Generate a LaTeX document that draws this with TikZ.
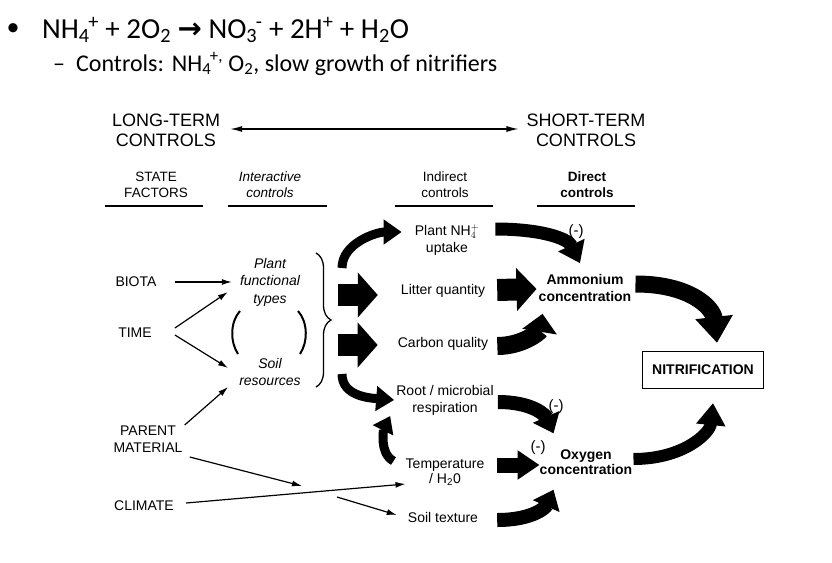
\documentclass[tikz,border=0pt]{standalone}
\usepackage{fontspec}
\setmainfont{Liberation Sans}
\newfontfamily\slidefont{Carlito}
\newfontfamily\arrowfont{DejaVu Sans}
\usetikzlibrary{arrows.meta,positioning,calc,decorations.pathreplacing}
\newcommand{\ionsub}[2]{\textsubscript{#1}\kern-1.5pt\textsuperscript{#2}}

\begin{document}
\begin{tikzpicture}[x=1pt,y=-1pt,inner sep=0pt]
       \tikzstyle{every node}=[align=center,font=\fontsize{14}{17}\selectfont]
       \tikzstyle{big}=[font=\fontsize{18}{20}\selectfont]
       \tikzstyle{hdr}=[font=\fontsize{13.5}{16}\selectfont]
       \tikzstyle{rule}=[line width=1.5pt]
       \tikzstyle{link}=[line width=1.2pt,-{Latex[length=10pt,width=6pt]}]
       \tikzstyle{minus}=[font=\fontsize{15}{17}\selectfont]
       \tikzset{fat/.style n args={3}{line width=#1,-{Triangle[length=#3,width=#2]}}}

       \fill[white] (0,0) rectangle (832,562);
       \useasboundingbox (0,0) rectangle (832,562);

       % slide text
       \node (bullet) at (13,30) {\slidefont\fontsize{26}{28}\selectfont •};
       \node[anchor=base west] (react) at (42,38) {\slidefont\fontsize{29}{32}\selectfont
             NH\ionsub{4}{+} + 2O\textsubscript{2} {\arrowfont\bfseries →} NO\ionsub{3}{-} + 2H\textsuperscript{+} + H\textsubscript{2}O};
       \node[anchor=base west] (ctrl) at (53,71) {\slidefont\fontsize{24}{27}\selectfont
             –\hspace{11pt}Controls:\hspace{8pt}NH\ionsub{4}{+,} O\textsubscript{2}, slow growth of nitrifiers};

       % headers
       \node[big] (longterm)  at (166,130) {LONG-TERM\\CONTROLS};
       \node[big] (shortterm) at (586,130) {SHORT-TERM\\CONTROLS};
       \draw[line width=1.2pt,{Latex[length=12pt,width=6pt]}-{Latex[length=12pt,width=6pt]}]
             ($(longterm.east)+(10,-1)$) -- ($(shortterm.west)+(-8,-1)$);

       \node[hdr] (state)    at (156,185) {STATE\\FACTORS};
       \node[hdr,font=\fontsize{13.5}{16}\selectfont\itshape] (inter) at (270,185) {Interactive\\controls};
       \node[hdr]            (indirect) at (445,185) {Indirect\\controls};
       \node[hdr,font=\fontsize{13.5}{16}\selectfont\bfseries] (direct) at (587,185) {Direct\\controls};
       \foreach \a/\b in {105/203,228/327,395/493,537/635}
             \draw[rule] (\a,206) -- (\b,206);

       % state factors
       \node (biota)   at (136,282) {BIOTA};
       \node (time)    at (135,333) {TIME};
       \node (parent)  at (148,439) {PARENT\\MATERIAL};
       \node (climate) at (144,506) {CLIMATE};

       % interactive controls
       \node[font=\fontsize{14}{17.5}\selectfont\itshape] (pft)  at (270,282) {Plant\\functional\\types};
       \node[font=\fontsize{14}{17}\selectfont\itshape]   (soil) at (270,372) {Soil\\resources};
       \draw[line width=2pt] (240,311) .. controls (230,322) and (230,342) .. (238,354);
       \draw[line width=2pt] (298,311) .. controls (308,322) and (308,342) .. (300,354);
       \draw[line width=1.3pt,decorate,decoration={brace,amplitude=15pt}] (316,253) -- (316,387);

       % indirect controls
       \node (uptake)  at (447,240) {Plant NH$_4^+$\\uptake};
       \node (litter)  at (443,291) {Litter quantity};
       \node (carbon)  at (443,344) {Carbon quality};
       \node (resp)    at (445,400) {Root / microbial\\respiration};
       \node[font=\fontsize{14}{15}\selectfont] (temp) at (445,472) {Temperature\\/ H\textsubscript{2}0};
       \node (texture) at (443,517) {Soil texture};

       % direct controls
       \node[font=\fontsize{14}{17}\selectfont\bfseries] (amm) at (585,288) {Ammonium\\concentration};
       \node[font=\fontsize{14}{15}\selectfont\bfseries] (oxy) at (586,462) {Oxygen\\concentration};
       \node[draw,line width=1.2pt,minimum width=121pt,minimum height=37pt,
             font=\fontsize{14}{17}\selectfont\bfseries] (nitr) at (703,370) {NITRIFICATION};

       \node[minus] (neg1) at (576,232) {(-)};
       \node[minus] (neg2) at (556,407) {(-)};
       \node[minus] (neg3) at (538,448) {(-)};

       % thin arrows
       \draw[link] ($(biota.east)+(18,0)$) -- ($(pft.west)+(-8,0)$);
       \draw[link] ($(time.east)+(23,-5)$) -- ($(pft.west)+(-12,10)$);
       \draw[link] ($(time.east)+(23,2)$) -- ($(soil.west)+(-11,-4)$);
       \draw[link] ($(parent.east)+(2,-14)$) -- ($(soil.west)+(-11,15)$);
       \coordinate (gap)  at (302,486);
       \coordinate (gap2) at (337,497);
       \draw[link] ($(parent.east)+(7,18)$) -- (gap);
       \draw[link] (gap2) -- ($(texture.west)+(-11,-2)$);
       \draw[link] ($(climate.east)+(12,-3)$) -- ($(temp.west)+(0,12)$);

       % fat arrows
       \coordinate (btop) at (342,268);
       \coordinate (bbot) at (342,374);
       \coordinate (bmid1) at (338,295);
       \coordinate (bmid2) at (338,345);
       \draw[fat={9pt}{24pt}{18pt}] (btop) .. controls +(0,-25) and +(-25,0) .. ($(uptake.west)+(-13,-8)$);
       \draw[fat={22pt}{44pt}{20pt}] (bmid1) -- ($(litter.west)+(-23,4)$);
       \draw[fat={22pt}{44pt}{20pt}] (bmid2) -- ($(carbon.west)+(-20,1)$);
       \draw[fat={9pt}{24pt}{18pt}] (bbot) .. controls +(0,22) and +(-25,-2) .. ($(resp.west)+(-2,0)$);

       \draw[fat={13pt}{28pt}{20pt}] ($(uptake.east)+(16,-11)$) .. controls +(45,0) and +(-12,-25) .. ($(amm.north)+(-5,-11)$);
       \draw[fat={22pt}{42pt}{20pt}] ($(litter.east)+(12,-1)$) -- ($(amm.west)+(-2,1)$);
       \draw[fat={18pt}{34pt}{18pt}] ($(carbon.east)+(9,2)$) .. controls +(25,0) and +(-3,18) .. ($(amm.south west)+(4,12)$);
       \draw[fat={14pt}{28pt}{18pt}] ($(resp.east)+(4,2)$) .. controls +(35,0) and +(-8,-18) .. ($(oxy.north west)+(14,-16)$);
       \draw[fat={15pt}{28pt}{22pt}] ($(temp.east)+(12,-7)$) -- ($(oxy.west)+(0,3)$);
       \draw[fat={14pt}{28pt}{18pt}] ($(texture.east)+(19,3)$) .. controls +(35,0) and +(-8,18) .. ($(oxy.south west)+(14,15)$);
       \draw[fat={9pt}{22pt}{16pt}] ($(temp.west)+(-12,-11)$) .. controls +(-15,-8) and +(-6,12) .. ($(resp.west)+(-6,16)$);

       \draw[fat={17pt}{36pt}{26pt}] ($(amm.east)+(4,-4)$) .. controls +(55,0) and +(-4,-35) .. ($(nitr.north)+(14,-8)$);
       \draw[fat={12pt}{28pt}{22pt}] ($(oxy.east)+(1,-3)$) .. controls +(50,0) and +(-3,30) .. ($(nitr.south)+(10,14)$);
\end{tikzpicture}
\end{document}
